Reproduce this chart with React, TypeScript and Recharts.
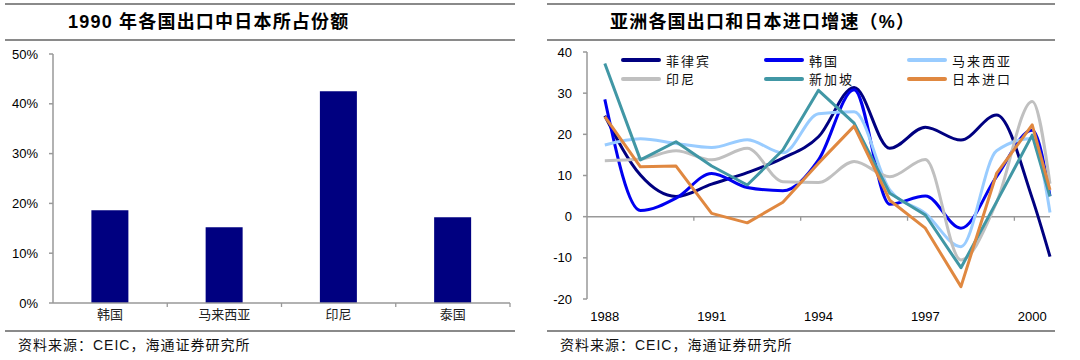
import React from 'react';
import {
  BarChart,
  Bar,
  LineChart,
  Line,
  XAxis,
  YAxis,
  ReferenceLine,
  Legend,
} from 'recharts';

// left panel: Japan's share of each country's exports, 1990 (%)
const SHARE_COUNTRIES = ['韩国', '马来西亚', '印尼', '泰国'];
const SHARE_VALUES = [18.6, 15.2, 42.5, 17.2];
const SHARE_TICKS = [0, 10, 20, 30, 40, 50];

// right panel: export growth of Asian economies vs Japanese import growth (%)
// last point is a part-year reading, sitting half a step after 2000
const YEARS = [1988, 1989, 1990, 1991, 1992, 1993, 1994, 1995, 1996, 1997, 1998, 1999, 2000, 2000.5];
const YEAR_TICKS = [1988, 1991, 1994, 1997, 2000];
const YEAR_BOUNDS = [1990.5, 1993.5, 1996.5, 1999.5];
const GROWTH_TICKS = [-20, -10, 0, 10, 20, 30, 40];

const PHILIPPINES = [24.5, 10.1, 4.9, 7.9, 10.7, 14.2, 19.4, 31.4, 16.6, 21.7, 18.6, 24.7, 4.5, -9.7];
const KOREA = [28.5, 1.5, 4.5, 10.5, 7.1, 6.3, 13.8, 30.8, 3.0, 5.0, -2.8, 9.7, 21.0, 5.0];
const MALAYSIA = [17.4, 18.9, 17.8, 16.8, 18.7, 15.5, 25.0, 25.5, 6.5, 0.8, -7.3, 16.0, 19.0, 1.0];
const INDONESIA = [13.6, 14.0, 16.0, 13.8, 16.6, 8.5, 8.3, 13.4, 9.7, 13.9, -10.5, 3.5, 28.0, 8.0];
const SINGAPORE = [37.2, 13.8, 18.2, 12.3, 7.7, 16.2, 30.7, 22.7, 5.7, 0.4, -12.4, 3.6, 19.8, 4.9];
const JAPAN_IMPORTS = [24.3, 12.1, 12.3, 0.8, -1.5, 3.5, 13.0, 22.0, 4.0, -2.8, -17.0, 10.5, 22.3, 6.5];

const SERIES = [
  { key: 'ph', name: '菲律宾', color: '#000080', values: PHILIPPINES, smooth: true },
  { key: 'kr', name: '韩国', color: '#0000F0', values: KOREA, smooth: true },
  { key: 'my', name: '马来西亚', color: '#99CCFF', values: MALAYSIA, smooth: true },
  { key: 'id', name: '印尼', color: '#C0C0C0', values: INDONESIA, smooth: true },
  { key: 'sg', name: '新加坡', color: '#4197A5', values: SINGAPORE, smooth: false },
  { key: 'jp', name: '日本进口', color: '#E08840', values: JAPAN_IMPORTS, smooth: false },
];
const SERIES_ORDER = SERIES.map((s) => s.name);

const shareData = SHARE_COUNTRIES.map((c, i) => ({ country: c, share: SHARE_VALUES[i] }));
const growthData = YEARS.map((y, i) => {
  const row: Record<string, number> = { year: y };
  SERIES.forEach((s) => {
    row[s.key] = s.values[i];
  });
  return row;
});

const AXIS_GREY = '#999';
const RULE_GREY = '#8a8a8a';
const LATIN = '"Liberation Sans", Arial, sans-serif';
const CJK = '"Noto Sans CJK SC", sans-serif';
const TICK_FONT = { fontSize: 13, fill: '#000', fontFamily: LATIN };
const CAT_FONT = { fontSize: 13, fill: '#222', fontFamily: CJK };

function GridLegend(props: any) {
  const items = [...(props.payload || [])].sort(
    (a: any, b: any) => SERIES_ORDER.indexOf(a.value) - SERIES_ORDER.indexOf(b.value)
  );
  return (
    <div
      style={{
        display: 'grid',
        gridTemplateColumns: 'repeat(3, 143px)',
        gridAutoRows: '18.5px',
        fontFamily: CJK,
        fontSize: 13,
        color: '#111',
      }}
    >
      {items.map((it: any) => (
        <div key={it.value} style={{ display: 'flex', alignItems: 'center' }}>
          <span
            style={{
              display: 'inline-block',
              width: 40,
              height: 4,
              borderRadius: 2,
              background: it.color,
              marginRight: 5,
            }}
          />
          <span style={{ letterSpacing: 2 }}>{it.value}</span>
        </div>
      ))}
    </div>
  );
}

function PanelFrame({ left, width, title }: { left: number; width: number; title: string }) {
  return (
    <>
      <div style={{ position: 'absolute', left, top: 3, width, height: 0, borderTop: `2px solid ${RULE_GREY}` }} />
      <div
        style={{
          position: 'absolute',
          left: left + 63,
          top: 10,
          lineHeight: '24px',
          fontSize: 18,
          fontWeight: 700,
          letterSpacing: 1.2,
          fontFamily: `${LATIN.split(',')[0]}, ${CJK}`,
          color: '#000',
          whiteSpace: 'nowrap',
        }}
      >
        {title}
      </div>
      <div style={{ position: 'absolute', left, top: 39, width, height: 0, borderTop: `2px solid ${RULE_GREY}` }} />
      <div style={{ position: 'absolute', left, top: 330, width, height: 0, borderTop: `2px solid ${RULE_GREY}` }} />
      <div
        style={{
          position: 'absolute',
          left: left + 13,
          top: 336,
          lineHeight: '18px',
          fontSize: 14,
          fontFamily: `${LATIN.split(',')[0]}, ${CJK}`,
          color: '#111',
          letterSpacing: 1,
          whiteSpace: 'nowrap',
        }}
      >
        资料来源：CEIC，海通证券研究所
      </div>
    </>
  );
}

export default function App() {
  return (
    <div
      style={{
        position: 'absolute',
        left: 0,
        top: 0,
        width: 1080,
        height: 360,
        background: '#fff',
        overflow: 'hidden',
      }}
    >
      <PanelFrame left={5} width={510} title="1990 年各国出口中日本所占份额" />
      <PanelFrame left={547} width={508} title="亚洲各国出口和日本进口增速（%）" />

      <div style={{ position: 'absolute', left: 0, top: 0 }}>
        <BarChart
          width={520}
          height={340}
          data={shareData}
          margin={{ top: 54, right: 10, bottom: 7, left: 0 }}
          barCategoryGap="33.6%"
        >
          <XAxis
            dataKey="country"
            height={30}
            stroke={AXIS_GREY}
            strokeWidth={1.5}
            tickLine={false}
            tickSize={4}
            tickMargin={3}
            tick={CAT_FONT}
            interval={0}
          />
          <YAxis
            width={53}
            domain={[0, 50]}
            ticks={SHARE_TICKS}
            tickFormatter={(v: number) => `${v}%`}
            stroke={AXIS_GREY}
            strokeWidth={1.5}
            tickSize={4}
            tickMargin={11}
            tick={TICK_FONT}
          />
          <Bar dataKey="share" fill="#000080" isAnimationActive={false} />
          {/* small marks at the right edge of each category band */}
          {SHARE_COUNTRIES.map((c) => (
            <ReferenceLine
              key={c}
              position="end"
              ifOverflow="visible"
              segment={[
                { x: c, y: 0 },
                { x: c, y: -0.8 },
              ]}
              stroke={AXIS_GREY}
              strokeWidth={1.3}
            />
          ))}
        </BarChart>
      </div>

      <div style={{ position: 'absolute', left: 540, top: 0 }}>
        <LineChart
          width={540}
          height={340}
          data={growthData}
          margin={{ top: 52, right: 30, bottom: 11, left: 0 }}
        >
          <XAxis
            dataKey="year"
            type="number"
            domain={[1987.5, 2000.5]}
            ticks={YEAR_TICKS}
            height={30}
            axisLine={false}
            tickLine={false}
            tickSize={6}
            tickMargin={7}
            tick={TICK_FONT}
          />
          <YAxis
            width={47}
            domain={[-20, 40]}
            ticks={GROWTH_TICKS}
            stroke={AXIS_GREY}
            strokeWidth={1.5}
            tickSize={4}
            tickMargin={11}
            tick={TICK_FONT}
          />
          <ReferenceLine y={0} stroke={AXIS_GREY} strokeWidth={1.5} />
          {YEAR_BOUNDS.map((b) => (
            <ReferenceLine
              key={b}
              segment={[
                { x: b, y: 0 },
                { x: b, y: -1 },
              ]}
              stroke={AXIS_GREY}
              strokeWidth={1.3}
            />
          ))}
          <Legend
            layout="horizontal"
            verticalAlign="middle"
            align="center"
            content={<GridLegend />}
            wrapperStyle={{ top: 51, left: 81, width: 440 }}
          />
          {SERIES.map((s) => (
            <Line
              key={s.key}
              dataKey={s.key}
              name={s.name}
              type={s.smooth ? 'monotone' : 'linear'}
              stroke={s.color}
              strokeWidth={3}
              strokeLinejoin="round"
              dot={false}
              activeDot={false}
              isAnimationActive={false}
            />
          ))}
        </LineChart>
      </div>
    </div>
  );
}
